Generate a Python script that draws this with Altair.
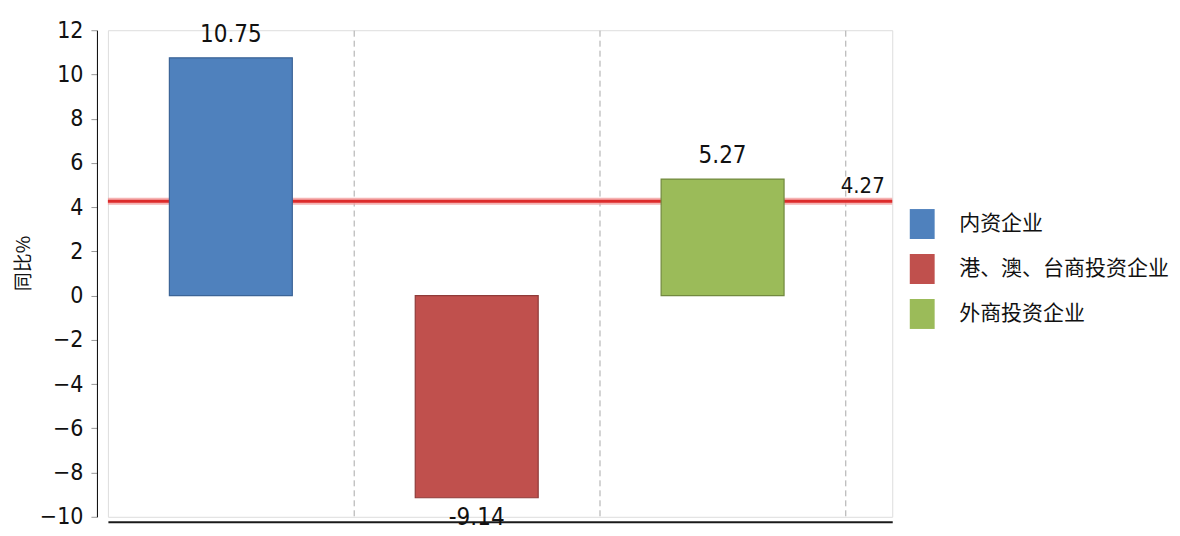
import altair as alt
import pandas as pd

categories = ["内资企业", "港、澳、台商投资企业", "外商投资企业"]
values = [10.75, -9.14, 5.27]
colors = ["#4F81BD", "#C0504D", "#9BBB59"]
border_colors = ["#3B6497", "#8F3B39", "#72893F"]
average_value = 4.27
average_label = ["4.27"]
y_ticks = [-10, -8, -6, -4, -2, 0, 2, 4, 6, 8, 10, 12]
grid_positions = [1, 2, 3]

NUM_FONT = "Liberation Sans Narrow, DejaVu Sans Condensed, sans-serif"
CJK_FONT = "Noto Sans CJK SC"

df = pd.DataFrame({"cat": categories, "value": values})
df["idx"] = range(len(categories))
df["x0"] = df["idx"] + 0.25
df["x1"] = df["idx"] + 0.75
df["xc"] = df["idx"] + 0.5
df["label"] = [f"{v:.2f}" for v in values]

x_scale = alt.Scale(domain=[0, 3.19], nice=False, zero=False)
y_scale = alt.Scale(domain=[-10, 12], nice=False)

x_axis = alt.Axis(
    values=grid_positions, grid=True, gridDash=[6, 4], gridColor="#A8A8A8",
    gridWidth=1, labels=False, ticks=False, title=None,
    domain=True, domainColor="#1A1A1A", domainWidth=2, offset=5,
)
y_axis = alt.Axis(
    values=y_ticks, grid=False, offset=11, domainColor="#000000", domainWidth=1,
    tickColor="#999999", tickSize=6, labelFontSize=23, labelFont=NUM_FONT,
    labelColor="#111111", labelPadding=8,
    title="同比%", titleFont=CJK_FONT, titleFontSize=19, titleFontWeight="normal",
    titleColor="#111111", titleX=-73, titleY=233, titleAngle=-90,
    titleAlign="center", titleBaseline="middle",
)

base = alt.Chart(df)

bars = base.mark_bar(strokeWidth=1.2).encode(
    x=alt.X("x0:Q", scale=x_scale, axis=x_axis),
    x2="x1:Q",
    y=alt.Y("value:Q", scale=y_scale, axis=y_axis),
    y2=alt.datum(0),
    fill=alt.Fill(
        "cat:N",
        scale=alt.Scale(domain=categories, range=colors),
        legend=alt.Legend(
            title=None, orient="none", legendX=800, legendY=179,
            symbolType="M-0.83,-1H0.83V1H-0.83Z", symbolSize=900,
            symbolStrokeWidth=0, labelFont=CJK_FONT, labelFontSize=21,
            labelColor="#111111", labelOffset=22, rowPadding=15,
            labelLimit=400,
        ),
    ),
    stroke=alt.Stroke(
        "cat:N", scale=alt.Scale(domain=categories, range=border_colors), legend=None
    ),
)

glow = alt.Chart(pd.DataFrame({"v": [average_value]})).mark_rule(
    color="#F2A0A0", strokeWidth=7, opacity=0.8
).encode(y=alt.Y("v:Q", scale=y_scale))
line = alt.Chart(pd.DataFrame({"v": [average_value]})).mark_rule(
    color="#DD2B2B", strokeWidth=3
).encode(y=alt.Y("v:Q", scale=y_scale))

pos_labels = base.transform_filter("datum.value >= 0").mark_text(
    font=NUM_FONT, fontSize=24, color="#111111", baseline="alphabetic", dy=-16
).encode(x=alt.X("xc:Q", scale=x_scale), y=alt.Y("value:Q", scale=y_scale), text="label:N")

neg_labels = base.transform_filter("datum.value < 0").mark_text(
    font=NUM_FONT, fontSize=24, color="#111111", baseline="top", dy=8
).encode(x=alt.X("xc:Q", scale=x_scale), y=alt.Y("value:Q", scale=y_scale), text="label:N")

avg_text = alt.Chart(pd.DataFrame({"v": [average_value], "t": average_label, "x": [3.07]})).mark_text(
    font=NUM_FONT, fontSize=22, color="#111111", baseline="alphabetic", dy=-8
).encode(x=alt.X("x:Q", scale=x_scale), y=alt.Y("v:Q", scale=y_scale), text="t:N")

chart = alt.layer(glow, line, bars, pos_labels, neg_labels, avg_text).properties(
    width=785, height=487,
    autosize=alt.AutoSizeParams(type="none"),
    padding={"left": 100, "top": 22, "right": 280, "bottom": 20},
).configure_view(fill="#F0F0EA", strokeWidth=0, stroke="transparent").configure(background="white")

chart.save("out.html", embed_options={"renderer": "svg", "actions": False})
